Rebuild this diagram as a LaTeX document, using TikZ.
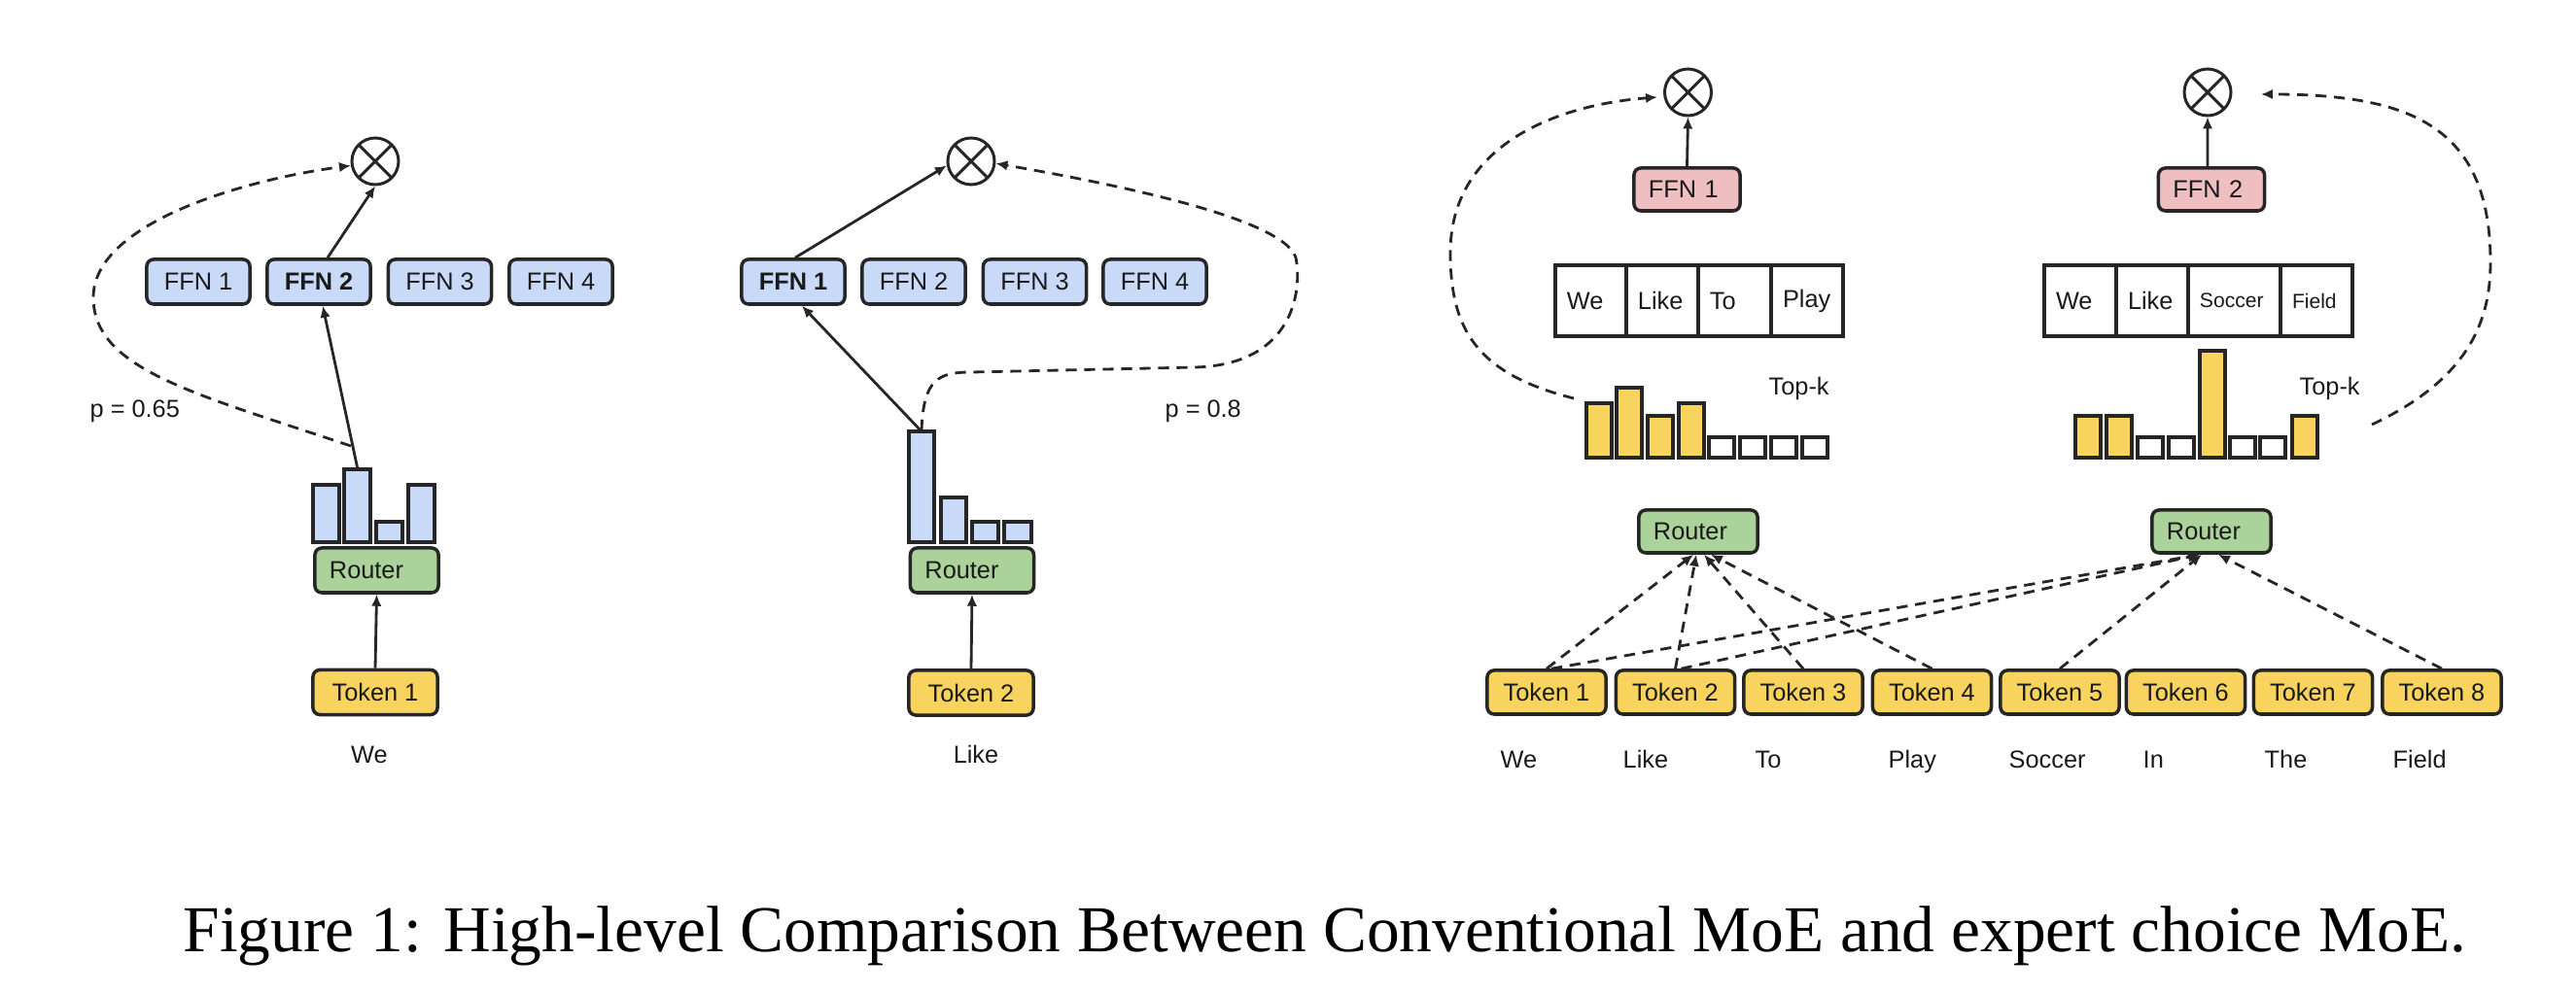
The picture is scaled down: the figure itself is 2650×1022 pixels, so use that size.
\documentclass[tikz,border=0pt]{standalone}
\usepackage{fontspec}
\setmainfont{Liberation Serif}
\setsansfont{Liberation Sans}
\usepackage{graphicx}
\usetikzlibrary{arrows.meta}
\definecolor{linec}{HTML}{262626}
\definecolor{textc}{HTML}{1A1A1A}
\definecolor{ffnblue}{HTML}{C9DAF8}
\definecolor{routergreen}{HTML}{AAD29A}
\definecolor{tokyellow}{HTML}{F8D35E}
\definecolor{ffnpink}{HTML}{EEBEC1}
\newcommand{\fsz}{\fontsize{7.2pt}{8.5pt}\selectfont}
\newcommand{\fsm}{\fontsize{6pt}{7pt}\selectfont}
\begin{document}
\begin{tikzpicture}[x=0.01cm,y=-0.01cm,
  box/.style={draw=linec, line width=1pt, rounded corners=2pt, inner sep=0pt,
    font=\sffamily\fsz, text=textc},
  ffn/.style={box, fill=ffnblue, minimum width=1.06cm, minimum height=0.46cm},
  ffnbold/.style={ffn, font=\sffamily\bfseries\fsz},
  router/.style={box, fill=routergreen, minimum height=0.46cm, inner xsep=0.15cm,
    text width=0.97cm, align=left},
  routerb/.style={router, minimum height=0.44cm, text width=0.92cm},
  pink/.style={box, fill=ffnpink, minimum height=0.44cm, inner xsep=0.15cm,
    text width=0.79cm, align=left},
  tok/.style={box, fill=tokyellow, minimum width=1.28cm, minimum height=0.46cm},
  tokb/.style={tok, minimum width=1.22cm, minimum height=0.45cm},
  circ/.style={circle, draw=linec, line width=0.85pt, minimum size=0.48cm, inner sep=0pt,
    path picture={\draw[linec, line width=0.85pt]
      (path picture bounding box.north west) -- (path picture bounding box.south east)
      (path picture bounding box.south west) -- (path picture bounding box.north east);}},
  cell/.style={draw=linec, line width=0.95pt, minimum height=0.73cm, inner ysep=0pt,
    inner xsep=0.12cm, align=left, font=\sffamily\fsz, text=textc},
  lbl/.style={inner sep=0pt, font=\sffamily\fsz, text=textc},
  bar/.style={draw=linec, line width=0.95pt},
  arr/.style={draw=linec, line width=0.8pt, -{Latex[length=3.4pt,width=3pt]}},
  darr/.style={arr, dash pattern=on 3.2pt off 2.2pt}
]
\useasboundingbox (0,0) rectangle (2650,1022);

% ================= Panel 1 =================
\node[circ] (o1) at (386,166) {};
\node[ffn] (f11) at (204,290) {FFN 1};
\node[ffnbold] (f12) at (328,290) {FFN 2};
\node[ffn] (f13) at (452.5,290) {FFN 3};
\node[ffn] (f14) at (577,290) {FFN 4};
\draw[bar, fill=ffnblue] (322,558) rectangle (349,499);
\draw[bar, fill=ffnblue] (354,558) rectangle (381,483);
\draw[bar, fill=ffnblue] (387,558) rectangle (414,537);
\draw[bar, fill=ffnblue] (420,558) rectangle (447,499);
\coordinate (b12) at (368,483);
\coordinate (c1s) at (361,459);
\node[router] (r1) at (387.5,587) {Router};
\node[tok] (t1) at (386,712.5) {Token 1};
\node[lbl, anchor=base] (w1) at (380,786) {We};
\node[lbl, anchor=base west] (p1) at (92,430) {p = 0.65};
\draw[arr] (t1.north) -- (r1.south);
\draw[arr] (b12) -- ([xshift=0.04cm]f12.south);
\draw[arr] ([xshift=0.09cm]f12.north) -- (o1.south);
\draw[darr] (c1s) .. controls (200,405) and (96,380) .. (96,306)
  .. controls (96,230) and (250,185) .. (o1.190);

% ================= Panel 2 =================
\node[circ] (o2) at (999,166) {};
\node[ffnbold] (f21) at (816,290) {FFN 1};
\node[ffn] (f22) at (940,290) {FFN 2};
\node[ffn] (f23) at (1064.5,290) {FFN 3};
\node[ffn] (f24) at (1188,290) {FFN 4};
\draw[bar, fill=ffnblue] (935,558) rectangle (961,444);
\draw[bar, fill=ffnblue] (968,558) rectangle (994,512);
\draw[bar, fill=ffnblue] (1000,558) rectangle (1027,537);
\draw[bar, fill=ffnblue] (1033,558) rectangle (1061,537);
\coordinate (b21) at (948,444);
\coordinate (c2s) at (948,443);
\node[router] (r2) at (1000,587) {Router};
\node[tok] (t2) at (999,713) {Token 2};
\node[lbl, anchor=base] (w2) at (1004,786) {Like};
\node[lbl, anchor=base west] (p2) at (1198,430) {p = 0.8};
\draw[arr] (t2.north) -- (r2.south);
\draw[arr] (b21) -- ([xshift=0.09cm]f21.south);
\draw[arr] ([xshift=0.02cm]f21.north) -- (o2.190);
\draw[darr] (c2s) .. controls (950,390) and (965,383) .. (1000,383) -- (1230,378)
  .. controls (1330,375) and (1340,300) .. (1333,265)
  .. controls (1320,225) and (1150,190) .. (o2.-5);

% ================= Panel 3 (expert choice) =================
\node[circ] (o3) at (1736.5,95) {};
\node[circ] (o4) at (2271,95) {};
\node[pink] (p31) at (1735.5,195) {FFN 1};
\node[pink] (p32) at (2275,195) {FFN 2};
\draw[arr] (p31.north) -- (o3.south);
\draw[arr] ([xshift=-0.04cm]p32.north) -- (o4.south);

% tables
\node[cell, minimum width=0.73cm, text width=0.49cm] (a1) at (1636.5,309.5) {We};
\node[cell, minimum width=0.74cm, text width=0.50cm] (a2) at (1710,309.5) {Like};
\node[cell, minimum width=0.75cm, text width=0.51cm] (a3) at (1784.5,309.5) {To};
\node[cell, minimum width=0.74cm, text width=0.50cm] (a4) at (1859,309.5) {Play};
\node[cell, minimum width=0.74cm, text width=0.50cm] (e1) at (2140,309.5) {We};
\node[cell, minimum width=0.74cm, text width=0.50cm] (e2) at (2214,309.5) {Like};
\node[cell, minimum width=0.95cm, text width=0.71cm, font=\sffamily\fsm] (e3) at (2298.5,309.5) {Soccer};
\node[cell, minimum width=0.74cm, text width=0.50cm, font=\sffamily\fsm] (e4) at (2383,309.5) {Field};

% bars (left expert)
\draw[bar, fill=tokyellow] (1632,471) rectangle (1658,415);
\draw[bar, fill=tokyellow] (1663,471) rectangle (1689,399);
\draw[bar, fill=tokyellow] (1695,471) rectangle (1721,428);
\draw[bar, fill=tokyellow] (1727,471) rectangle (1753,415);
\draw[bar, fill=white] (1758,471) rectangle (1784,450);
\draw[bar, fill=white] (1790,471) rectangle (1816,450);
\draw[bar, fill=white] (1822,471) rectangle (1848,450);
\draw[bar, fill=white] (1854,471) rectangle (1880,450);
% bars (right expert)
\draw[bar, fill=tokyellow] (2135,471) rectangle (2161,428);
\draw[bar, fill=tokyellow] (2167,471) rectangle (2193,428);
\draw[bar, fill=white] (2199,471) rectangle (2225,450);
\draw[bar, fill=white] (2231,471) rectangle (2257,450);
\draw[bar, fill=tokyellow] (2263,471) rectangle (2289,361);
\draw[bar, fill=white] (2294,471) rectangle (2320,450);
\draw[bar, fill=white] (2325,471) rectangle (2351,450);
\draw[bar, fill=tokyellow] (2358,471) rectangle (2384,428);

\node[lbl, anchor=base west] (k1) at (1819,407) {Top-k};
\node[lbl, anchor=base west] (k2) at (2365,407) {Top-k};

\coordinate (c3s) at (1619,410);
\coordinate (c3e) at (1705,100);
\coordinate (c4s) at (2440,437);
\coordinate (c4e) at (2326,97);
\draw[darr] (c3s) .. controls (1520,385) and (1492,340) .. (1492,260)
  .. controls (1492,150) and (1600,108) .. (c3e);
\draw[darr] (c4s) .. controls (2540,390) and (2562,330) .. (2562,270)
  .. controls (2562,130) and (2480,97) .. (c4e);

% routers
\node[routerb] (r3) at (1747,547) {Router};
\node[routerb] (r4) at (2275,547) {Router};

% tokens
\node[tokb] (tr1) at (1591,712.5) {Token 1};
\node[tokb] (tr2) at (1723.5,712.5) {Token 2};
\node[tokb] (tr3) at (1855,712.5) {Token 3};
\node[tokb] (tr4) at (1987.5,712.5) {Token 4};
\node[tokb] (tr5) at (2119,712.5) {Token 5};
\node[tokb] (tr6) at (2248.5,712.5) {Token 6};
\node[tokb] (tr7) at (2379.5,712.5) {Token 7};
\node[tokb] (tr8) at (2512,712.5) {Token 8};

\node[lbl, anchor=base west] (v1) at (1543,791) {We};
\node[lbl, anchor=base west] (v2) at (1669,791) {Like};
\node[lbl, anchor=base west] (v3) at (1805,791) {To};
\node[lbl, anchor=base west] (v4) at (1942,791) {Play};
\node[lbl, anchor=base west] (v5) at (2066,791) {Soccer};
\node[lbl, anchor=base west] (v6) at (2204,791) {In};
\node[lbl, anchor=base west] (v7) at (2329,791) {The};
\node[lbl, anchor=base west] (v8) at (2461,791) {Field};

\draw[darr] (tr1.north) -- ([xshift=-0.05cm]r3.south);
\draw[darr] (tr2.north) -- ([xshift=-0.02cm]r3.south);
\draw[darr] (tr3.north) -- ([xshift=0.06cm]r3.south);
\draw[darr] (tr4.north) -- ([xshift=0.13cm]r3.south);
\draw[darr] ([xshift=0.05cm]tr1.north) -- ([xshift=-0.12cm]r4.south);
\draw[darr] ([xshift=0.06cm]tr2.north) -- ([xshift=-0.12cm]r4.south);
\draw[darr] (tr5.north) -- ([xshift=-0.10cm]r4.south);
\draw[darr] (tr8.north) -- ([xshift=0.07cm]r4.south);

% caption
\node[inner sep=0pt, anchor=base west] (cap) at (188,980)
  {\resizebox{23.47cm}{!}{\fontsize{15pt}{18pt}\selectfont Figure 1: High-level Comparison Between Conventional MoE and expert choice MoE.}};
\end{tikzpicture}
\end{document}
